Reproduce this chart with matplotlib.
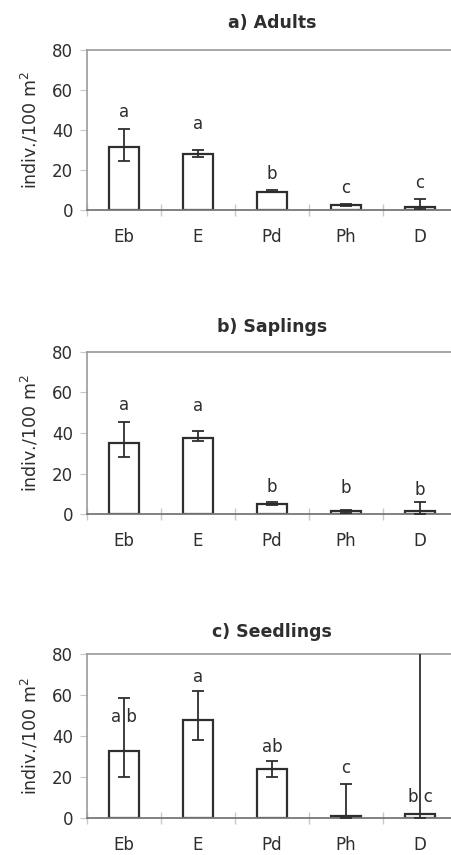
import matplotlib
matplotlib.use('Agg')
from matplotlib import pyplot as plt
import numpy as np

categories = ['Eb', 'E', 'Pd', 'Ph', 'D']

# a) Adults
adults_mean = [31.7, 27.8, 9.2, 2.5, 1.7]
adults_low = [24.7, 26.7, 9.0, 2.0, 0.3]
adults_high = [40.5, 30.2, 10.0, 3.2, 5.5]
adults_letters = ['a', 'a', 'b', 'c', 'c']
adults_letter_y = [48.8, 43.0, 18.0, 11.0, 13.3]

# b) Saplings
saplings_mean = [34.9, 37.7, 4.9, 1.6, 1.6]
saplings_low = [28.0, 36.2, 4.4, 0.8, 0.3]
saplings_high = [45.2, 41.0, 5.9, 2.3, 5.9]
saplings_letters = ['a', 'a', 'b', 'b', 'b']
saplings_letter_y = [53.6, 53.1, 13.3, 12.8, 11.8]

# c) Seedlings
seedlings_mean = [33.0, 47.8, 23.9, 1.1, 2.1]
seedlings_low = [20.0, 38.2, 20.2, 0.0, 0.0]
seedlings_high = [58.9, 62.0, 28.1, 16.7, 81.0]
seedlings_letters = ['a b', 'a', 'ab', 'c', 'b c']
seedlings_letter_y = [49.6, 68.8, 34.6, 24.4, 10.6]

panels = [
    ('a) Adults', adults_mean, adults_low, adults_high, adults_letters, adults_letter_y),
    ('b) Saplings', saplings_mean, saplings_low, saplings_high, saplings_letters, saplings_letter_y),
    ('c) Seedlings', seedlings_mean, seedlings_low, seedlings_high, seedlings_letters, seedlings_letter_y),
]

# axes boxes in pixels: (top, bottom), figure 452 x 855
W, H = 452, 855
boxes = [(50, 210), (351.7, 514.3), (654.3, 818.3)]
title_pads = [15.5, 14.5, 12.5]
left_px, right_px = 87, 457

dark = '#2e2e2e'
grey = '#9a9a9a'

plt.rcParams['font.family'] = 'DejaVu Sans'

fig = plt.figure(figsize=(W / 100, H / 100), dpi=100)

for (title, mean, low, high, letters, ly), (top, bot), tp in zip(panels, boxes, title_pads):
    ax = fig.add_axes([left_px / W, 1 - bot / H, (right_px - left_px) / W, (bot - top) / H])
    x = np.arange(len(categories))
    ax.bar(x, mean, width=0.41, color='white', edgecolor=dark, linewidth=1.6, zorder=2)
    yerr = [np.array(mean) - np.array(low), np.array(high) - np.array(mean)]
    ax.errorbar(x, mean, yerr=yerr, fmt='none', ecolor=dark, elinewidth=1.3,
                capsize=4, capthick=1.3, zorder=3)
    for xi, lab, yy in zip(x, letters, ly):
        ax.text(xi, yy, lab, ha='center', va='center', fontsize=12, color=dark)

    ax.set_xlim(-0.5, 4.5)
    ax.set_ylim(0, 80)
    ax.set_yticks([0, 20, 40, 60, 80])
    ax.set_xticks(x)
    ax.set_xticklabels(categories)
    ax.set_xticks([-0.5, 0.5, 1.5, 2.5, 3.5], minor=True)
    ax.tick_params(axis='x', which='major', length=0, pad=13, labelsize=12, labelcolor=dark)
    ax.tick_params(axis='x', which='minor', length=8, direction='inout', color='#c8c8c8', width=1)
    ax.tick_params(axis='y', length=5, color='#c8c8c8', pad=5, labelsize=12, labelcolor=dark)

    for s in ['top', 'left']:
        ax.spines[s].set_color(grey)
        ax.spines[s].set_linewidth(1.2)
    ax.spines['bottom'].set_color('#777777')
    ax.spines['bottom'].set_linewidth(1.3)
    ax.spines['right'].set_visible(False)

    ax.set_ylabel('indiv./100 m$^2$', fontsize=12.5, color=dark)
    ax.yaxis.set_label_coords(-0.125, 0.5)
    ax.set_title(title, fontsize=12.5, fontweight='bold', color=dark, pad=tp)

plt.savefig('out.png', dpi=100)
